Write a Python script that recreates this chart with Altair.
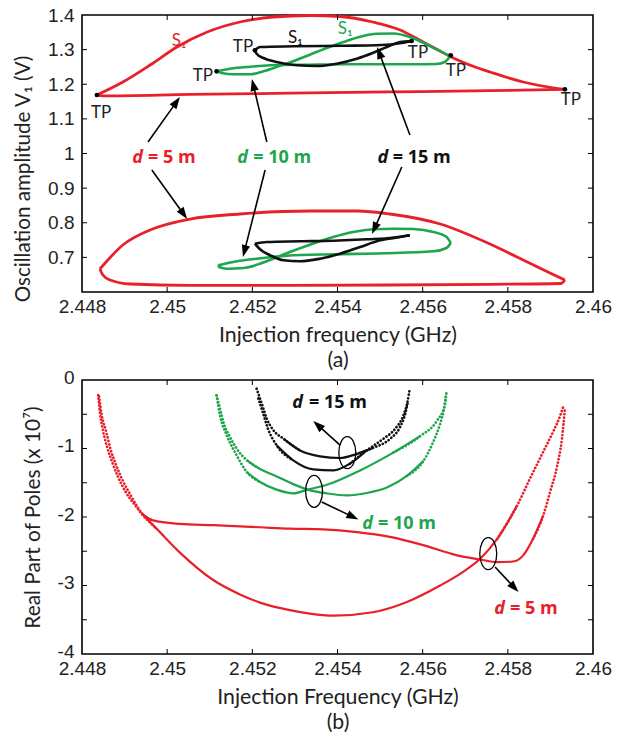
import math
import altair as alt
import pandas as pd

# ============ values ============
RED, GREEN, BLACK, GREY = "#e8202a", "#1fa54d", "#111111", "#222222"

# ---- (a) oscillation amplitude, d = 5 m (red) ----
a5_top_up_x = [2.44835, 2.44896, 2.44960, 2.45023, 2.45094, 2.45171, 2.45249, 2.45335, 2.45406, 2.45483, 2.45547,
               2.45601, 2.45634, 2.45667, 2.45723, 2.45758, 2.45836, 2.45899, 2.45934]
a5_top_up_y = [1.169, 1.2065, 1.2556, 1.3076, 1.3509, 1.3798, 1.3942, 1.3986, 1.3957, 1.3798, 1.3567,
               1.322, 1.3004, 1.2787, 1.2498, 1.2354, 1.2065, 1.1912, 1.1854]
a5_top_lo_x = [2.44835, 2.44849, 2.45054, 2.45288, 2.45523, 2.45758, 2.45934]
a5_top_lo_y = [1.169, 1.1665, 1.1705, 1.1742, 1.1778, 1.1815, 1.1854]
a5_bot_up_x = [2.44842, 2.44896, 2.44960, 2.45054, 2.45171, 2.45335, 2.45446, 2.45523, 2.45641, 2.45758, 2.45836, 2.45899, 2.45934]
a5_bot_up_y = [0.6664, 0.7357, 0.7791, 0.8108, 0.8253, 0.8339, 0.8339, 0.8253, 0.7964, 0.7386, 0.6924, 0.6549, 0.6347]
a5_bot_lo_x = [2.44842, 2.44849, 2.44866, 2.44913, 2.45054, 2.45288, 2.45523, 2.45758, 2.45925, 2.45934]
a5_bot_lo_y = [0.6664, 0.6491, 0.6347, 0.6231, 0.6194, 0.6194, 0.6202, 0.6222, 0.6245, 0.6347]

# ---- (a) d = 10 m (green) ----
a10_top_a_x = [2.45116, 2.45148, 2.45195, 2.45242, 2.45335, 2.45414, 2.45492, 2.45570, 2.45633, 2.45652, 2.45666]
a10_top_a_y = [1.2374, 1.2449, 1.2507, 1.2547, 1.2565, 1.2576, 1.2576, 1.2576, 1.2585, 1.2643, 1.2836]
a10_top_b_x = [2.45116, 2.45128, 2.45155, 2.45195, 2.45226, 2.45257, 2.45296, 2.45335, 2.45375, 2.45414, 2.45453,
               2.45492, 2.45531, 2.45570, 2.45610, 2.45641, 2.45658, 2.45666]
a10_top_b_y = [1.2374, 1.2325, 1.2287, 1.2287, 1.2374, 1.2498, 1.2663, 1.2853, 1.3047, 1.322, 1.3373,
               1.346, 1.3466, 1.3365, 1.3148, 1.2955, 1.2855, 1.2836]
a10_bot_a_x = [2.45120, 2.45155, 2.45210, 2.45281, 2.45390, 2.45508, 2.45625, 2.45656, 2.45666]
a10_bot_a_y = [0.6771, 0.6866, 0.6962, 0.7048, 0.7089, 0.7118, 0.7175, 0.7271, 0.7415]
a10_bot_b_x = [2.45120, 2.45122, 2.45140, 2.45179, 2.45218, 2.45249, 2.45288, 2.45335, 2.45390, 2.45437, 2.45484,
               2.45531, 2.45578, 2.45625, 2.45656, 2.45666]
a10_bot_b_y = [0.6771, 0.6722, 0.6673, 0.6693, 0.6817, 0.6962, 0.7155, 0.7366, 0.7588, 0.7733, 0.7811,
               0.7828, 0.782, 0.7733, 0.7588, 0.7415]

# ---- (a) d = 15 m (black) ----
a15_top_a_x = [2.45206, 2.45218, 2.45296, 2.45414, 2.45492, 2.45555, 2.45574]
a15_top_a_y = [1.298, 1.3076, 1.3096, 1.3113, 1.3125, 1.320, 1.3249]
a15_top_b_x = [2.45206, 2.45210, 2.45226, 2.45257, 2.45304, 2.45351, 2.45398, 2.45445, 2.45484, 2.45516, 2.45547, 2.45574]
a15_top_b_y = [1.298, 1.2882, 1.2758, 1.2643, 1.2547, 1.2527, 1.2594, 1.2738, 1.2911, 1.3076, 1.322, 1.3249]
a15_bot_a_x = [2.45206, 2.45234, 2.45312, 2.45390, 2.45469, 2.45531, 2.45570]
a15_bot_a_y = [0.7395, 0.7444, 0.7464, 0.7482, 0.7522, 0.7568, 0.7638]
a15_bot_b_x = [2.45206, 2.45218, 2.45242, 2.45273, 2.45312, 2.45359, 2.45406, 2.45453, 2.45500, 2.45547, 2.45570]
a15_bot_b_y = [0.7395, 0.7233, 0.706, 0.6915, 0.6887, 0.6962, 0.7106, 0.73, 0.7493, 0.7588, 0.7638]

tp_x = [2.44835, 2.45934, 2.45116, 2.45666, 2.45206, 2.45574]
tp_y = [1.169, 1.1854, 1.2374, 1.2836, 1.298, 1.3249]

lab_a_text = ["S\u2081", "S\u2081", "S\u2081", "TP", "TP", "TP", "TP", "TP", "TP"]
lab_a_x = [2.45028, 2.45301, 2.45418, 2.44845, 2.45084, 2.45178, 2.45589, 2.45678, 2.45948]
lab_a_y = [1.3249, 1.3336, 1.3596, 1.117, 1.2238, 1.3076, 1.2903, 1.2383, 1.1531]
lab_a_col = [RED, BLACK, GREEN, GREY, GREY, GREY, GREY, GREY, GREY]

d_a_x = [2.44943, 2.45190, 2.45519]
d_a_rest_x = [2.44955, 2.45202, 2.45530]
d_a_y = [0.987, 0.987, 0.987]
d_a_rest = ["= 5 m", "= 10 m", "= 15 m"]
d_a_col = [RED, GREEN, BLACK]

arr_a_tx = [2.44955, 2.44964, 2.45234, 2.45230, 2.45570, 2.45551]
arr_a_ty = [1.0332, 0.9523, 1.0332, 0.9523, 1.0534, 0.961]
arr_a_hx = [2.45030, 2.45047, 2.45199, 2.45178, 2.45493, 2.45481]
arr_a_hy = [1.1632, 0.8108, 1.2152, 0.7011, 1.3076, 0.7675]

# ---- (b) real part of poles (x 1e7) ----
b5_d_x = [2.44838, 2.44842, 2.44849, 2.44859, 2.44871, 2.44885, 2.44903, 2.44925, 2.44940, 2.44975, 2.45030, 2.45108,
          2.45171, 2.45218, 2.45288, 2.45335, 2.45390, 2.45483, 2.45563, 2.45641, 2.45695, 2.45735, 2.45775, 2.45822,
          2.45852, 2.45883, 2.45906, 2.45923, 2.45930]
b5_d_y = [-0.22, -0.47, -0.73, -0.98, -1.2, -1.42, -1.64, -1.83, -1.95, -2.17, -2.52, -2.92,
          -3.13, -3.25, -3.36, -3.41, -3.44, -3.39, -3.24, -3.0, -2.8, -2.61, -2.32, -1.83,
          -1.44, -1.05, -0.76, -0.52, -0.39]
b5_f_x = [2.44840, 2.44846, 2.44857, 2.44867, 2.44880, 2.44895, 2.44914, 2.44931, 2.44941, 2.44967, 2.45030, 2.45108,
          2.45218, 2.45288, 2.45366, 2.45446, 2.45523, 2.45601, 2.45681, 2.45735, 2.45775, 2.45812, 2.45836, 2.45859,
          2.45883, 2.45899, 2.45916, 2.45927, 2.45934]
b5_f_y = [-0.24, -0.5, -0.76, -1.01, -1.24, -1.46, -1.68, -1.86, -1.95, -2.05, -2.10, -2.12,
          -2.15, -2.17, -2.18, -2.22, -2.29, -2.41, -2.56, -2.62, -2.66, -2.65, -2.56, -2.32,
          -1.98, -1.64, -1.25, -0.86, -0.42]
b10_1_x = [2.45116, 2.45124, 2.45132, 2.45148, 2.45163, 2.45187, 2.45210, 2.45265, 2.45296, 2.45330, 2.45375, 2.45422,
           2.45469, 2.45516, 2.45563, 2.45602, 2.45625, 2.45641, 2.45650, 2.45655]
b10_1_y = [-0.223, -0.419, -0.613, -0.84, -1.0, -1.17, -1.27, -1.43, -1.52, -1.60, -1.655, -1.685,
           -1.65, -1.57, -1.40, -1.18, -0.90, -0.64, -0.42, -0.204]
b10_2_x = [2.45116, 2.45124, 2.45140, 2.45163, 2.45187, 2.45218, 2.45257, 2.45296, 2.45330, 2.45375, 2.45453, 2.45531,
           2.45594, 2.45633, 2.45652, 2.45656]
b10_2_y = [-0.223, -0.515, -0.807, -1.099, -1.343, -1.489, -1.60, -1.655, -1.60, -1.53, -1.32, -1.06,
           -0.82, -0.60, -0.37, -0.175]
b15_1_x = [2.45210, 2.45223, 2.45234, 2.45249, 2.45273, 2.45312, 2.45359, 2.45406, 2.45445, 2.45483, 2.45523, 2.45547,
           2.45559, 2.45566]
b15_1_y = [-0.127, -0.36, -0.565, -0.73, -0.857, -1.03, -1.115, -1.139, -1.08, -0.993, -0.861, -0.686, -0.496, -0.30]
b15_2_x = [2.45214, 2.45225, 2.45236, 2.45257, 2.45296, 2.45343, 2.45390, 2.45429, 2.45469, 2.45507, 2.45535, 2.45554,
           2.45564, 2.45570]
b15_2_y = [-0.27, -0.48, -0.70, -0.953, -1.172, -1.304, -1.318, -1.222, -1.026, -0.861, -0.715, -0.526, -0.33, -0.117]

d_b_x = [2.45319, 2.45483, 2.45793]
d_b_rest_x = [2.45333, 2.45495, 2.45805]
d_b_y = [-0.343, -2.095, -3.35]
d_b_rest = ["= 15 m", "= 10 m", "= 5 m"]
d_b_col = [BLACK, GREEN, RED]

ell_b_x = [2.45423, 2.45345, 2.45754]
ell_b_y = [-1.061, -1.625, -2.536]

arr_b_tx = [2.45406, 2.45363, 2.45770]
arr_b_ty = [-0.95, -1.781, -2.73]
arr_b_hx = [2.45343, 2.45449, 2.45825]
arr_b_hy = [-0.60, -2.036, -3.095]

x_labels = [2.448, 2.45, 2.452, 2.454, 2.456, 2.458, 2.46]
x_inner = [2.45, 2.452, 2.454, 2.456, 2.458]
ya_labels = [0.7, 0.8, 0.9, 1, 1.1, 1.2, 1.3, 1.4]
ya_inner = [0.7, 0.8, 0.9, 1.0, 1.1, 1.2, 1.3]
yb_labels = [-4, -3, -2, -1, 0]
yb_inner = [-3.5, -3, -2.5, -2, -1.5, -1, -0.5]

# ============ layout / style ============
X0, X1 = 2.448, 2.46
W, HA, HB = 511, 277, 274
YA = (0.6, 1.4)
YB = (-4.0, 0.0)
TFONT = "Lato"
LFONT = "Liberation Sans"
SX = W / (X1 - X0)

xs = alt.Scale(domain=[X0, X1], nice=False, zero=False)
ysa = alt.Scale(domain=list(YA), nice=False, zero=False)
ysb = alt.Scale(domain=list(YB), nice=False, zero=False)


def x_axis(title):
    return alt.Axis(values=x_labels, labelExpr="'' + datum.value", title=title, labelFlush=False,
                    labelOverlap=False, labelPadding=5, titlePadding=8, titleLineHeight=25, titleFontSize=21.3)


ax_a = x_axis(["Injection frequency (GHz)", "(a)"])
ax_b = x_axis(["Injection Frequency (GHz)", "(b)"])
ay_a = alt.Axis(values=ya_labels, labelExpr="'' + datum.value", labelFlush=False, labelOverlap=False,
                title="Oscillation amplitude  V\u2081 (V)", labelPadding=8, titlePadding=14,
                titleFontSize=20.6, titleY=HA / 2 + 25)
ay_b = alt.Axis(values=yb_labels, labelExpr="'' + datum.value", labelFlush=False, labelOverlap=False,
                title="Real Part of Poles (x 10\u2077)", labelPadding=8, titlePadding=14,
                titleFontSize=20.8, labelOffset=-3)


def branches(parts):
    rows = []
    for name, xs_, ys_ in parts:
        for a, b in zip(xs_, ys_):
            rows.append({"x": a, "y": b, "branch": name})
    return pd.DataFrame(rows)


def segs(name, xs_, ys_, i_left, i_right):
    # dotted ends overlap the solid middle by one interval so the joins stay smooth
    rows = []
    n = len(xs_)
    for kind, a, b in (("dot", 0, i_left + 1), ("solid", i_left, i_right), ("dot", i_right - 1, n - 1)):
        for i in range(a, b + 1):
            rows.append({"x": xs_[i], "y": ys_[i], "branch": f"{name}-{kind}-{a}", "kind": kind})
    return rows


def arrows(tx, ty, hx, hy, sy):
    rows = []
    for xt, yt, xh, yh in zip(tx, ty, hx, hy):
        dx = (xh - xt) * SX
        dy = (yh - yt) * sy
        L = math.hypot(dx, dy)
        ux, uy = dx / L, dy / L
        ang = math.degrees(math.atan2(dx, dy)) % 360
        hl = 12.0
        rows.append({"x": xt, "y": yt,
                     "x2": xh - ux * hl * 0.7 / SX, "y2": yh - uy * hl * 0.7 / sy,
                     "hx": xh - ux * hl / 2 / SX, "hy": yh - uy * hl / 2 / sy, "ang": ang})
    return pd.DataFrame(rows)


ARROW = "M0,-1L0.7,1L-0.7,1Z"
ELLIPSE = "M0,-1A0.53,1,0,1,1,0,1A0.53,1,0,1,1,0,-1Z"


def frame_ticks(xt, yt, X, Y, H):
    dfx = pd.DataFrame({"x": xt})
    dfy = pd.DataFrame({"y": yt})
    return [
        alt.Chart(dfx).mark_rule(color="black", strokeWidth=1).encode(x=X, y=alt.value(0), y2=alt.value(5)),
        alt.Chart(dfx).mark_rule(color="black", strokeWidth=1).encode(x=X, y=alt.value(H), y2=alt.value(H - 5)),
        alt.Chart(dfy).mark_rule(color="black", strokeWidth=1).encode(y=Y, x=alt.value(0), x2=alt.value(5)),
        alt.Chart(dfy).mark_rule(color="black", strokeWidth=1).encode(y=Y, x=alt.value(W), x2=alt.value(W - 5)),
    ]


def d_labels(dx, rx, dy, rest, cols, X, Y):
    df_d = pd.DataFrame({"x": dx, "y": dy, "t": ["d"] * len(dx), "c": cols})
    df_r = pd.DataFrame({"x": rx, "y": dy, "t": rest, "c": cols})
    return [
        alt.Chart(df_d).mark_text(font="Open Sans", fontSize=18, fontWeight="bold", fontStyle="italic",
                                  align="right", baseline="middle").encode(
            x=X, y=Y, text="t:N", color=alt.Color("c:N", scale=None)),
        alt.Chart(df_r).mark_text(font="Open Sans", fontSize=18, fontWeight="bold",
                                  align="left", baseline="middle").encode(
            x=X, y=Y, text="t:N", color=alt.Color("c:N", scale=None)),
    ]


def arrow_layers(df, X, Y, xaxis, yscale, yaxis):
    return [
        alt.Chart(df).mark_rule(color="black", strokeWidth=1.6).encode(x=X, y=Y, x2="x2:Q", y2="y2:Q"),
        alt.Chart(df).mark_point(shape=ARROW, size=144, filled=True, color="black", opacity=1).encode(
            x=alt.X("hx:Q", scale=xs, axis=xaxis), y=alt.Y("hy:Q", scale=yscale, axis=yaxis),
            angle=alt.Angle("ang:Q", scale=None)),
    ]


# ---------------- panel (a) ----------------
XA = alt.X("x:Q", scale=xs, axis=ax_a)
YAe = alt.Y("y:Q", scale=ysa, axis=ay_a)
SYA = HA / (YA[1] - YA[0])

red_a = branches([("r1", a5_top_up_x, a5_top_up_y), ("r2", a5_top_lo_x, a5_top_lo_y),
                  ("r3", a5_bot_up_x, a5_bot_up_y), ("r4", a5_bot_lo_x, a5_bot_lo_y)])
green_a = branches([("g1", a10_top_a_x, a10_top_a_y), ("g2", a10_top_b_x, a10_top_b_y),
                    ("g3", a10_bot_a_x, a10_bot_a_y), ("g4", a10_bot_b_x, a10_bot_b_y)])
black_a = branches([("k1", a15_top_a_x, a15_top_a_y), ("k2", a15_top_b_x, a15_top_b_y),
                    ("k3", a15_bot_a_x, a15_bot_a_y), ("k4", a15_bot_b_x, a15_bot_b_y)])

layers_a = []
for df, col, sw in ((red_a, RED, 2.8), (green_a, GREEN, 2.6), (black_a, BLACK, 2.6)):
    layers_a.append(alt.Chart(df).mark_line(interpolate="monotone", color=col, strokeWidth=sw).encode(
        x=XA, y=YAe, detail="branch:N"))
layers_a.append(alt.Chart(pd.DataFrame({"x": tp_x, "y": tp_y})).mark_circle(size=22, color="black", opacity=1)
                .encode(x=XA, y=YAe))
layers_a.append(alt.Chart(pd.DataFrame({"x": lab_a_x, "y": lab_a_y, "t": lab_a_text, "c": lab_a_col}))
                .mark_text(font=TFONT, fontSize=17, baseline="middle", align="center")
                .encode(x=XA, y=YAe, text="t:N", color=alt.Color("c:N", scale=None)))
layers_a += d_labels(d_a_x, d_a_rest_x, d_a_y, d_a_rest, d_a_col, XA, YAe)
layers_a += arrow_layers(arrows(arr_a_tx, arr_a_ty, arr_a_hx, arr_a_hy, SYA), XA, YAe, ax_a, ysa, ay_a)
layers_a += frame_ticks(x_inner, ya_inner, XA, YAe, HA)
panel_a = alt.layer(*layers_a).properties(width=W, height=HA)

# ---------------- panel (b) ----------------
XB = alt.X("x:Q", scale=xs, axis=ax_b)
YBe = alt.Y("y:Q", scale=ysb, axis=ay_b)
SYB = HB / (YB[1] - YB[0])

red_b = pd.DataFrame(segs("d", b5_d_x, b5_d_y, 8, 23) + segs("f", b5_f_x, b5_f_y, 8, 24))
green_b = pd.DataFrame(segs("g1", b10_1_x, b10_1_y, 5, 15) + segs("g2", b10_2_x, b10_2_y, 4, 12))
black_b = pd.DataFrame(segs("k1", b15_1_x, b15_1_y, 4, 9) + segs("k2", b15_2_x, b15_2_y, 3, 8))

layers_b = []
for df, col in ((red_b, RED), (green_b, GREEN), (black_b, BLACK)):
    layers_b.append(alt.Chart(df).transform_filter("datum.kind == 'solid'")
                    .mark_line(interpolate="monotone", color=col, strokeWidth=2.2)
                    .encode(x=XB, y=YBe, detail="branch:N"))
    layers_b.append(alt.Chart(df).transform_filter("datum.kind == 'dot'")
                    .mark_line(interpolate="monotone", color=col, strokeWidth=2.7, strokeDash=[0.1, 3.4],
                               strokeCap="round")
                    .encode(x=XB, y=YBe, detail="branch:N"))
layers_b.append(alt.Chart(pd.DataFrame({"x": ell_b_x, "y": ell_b_y}))
                .mark_point(shape=ELLIPSE, size=1024, filled=False, color="black", strokeWidth=1.3, opacity=1)
                .encode(x=XB, y=YBe))
layers_b += d_labels(d_b_x, d_b_rest_x, d_b_y, d_b_rest, d_b_col, XB, YBe)
layers_b += arrow_layers(arrows(arr_b_tx, arr_b_ty, arr_b_hx, arr_b_hy, SYB), XB, YBe, ax_b, ysb, ay_b)
layers_b += frame_ticks(x_inner, yb_inner, XB, YBe, HB)
panel_b = alt.layer(*layers_b).properties(width=W, height=HB)

chart = (
    alt.vconcat(panel_a, panel_b, spacing=-5)
    .properties(padding={"left": 12, "top": 5, "right": 10, "bottom": 2}, background="white")
    .configure_view(stroke="black", strokeWidth=1.6)
    .configure_axis(grid=False, domain=False, ticks=False,
                    labelFont=LFONT, labelFontSize=19, labelColor="#222222",
                    titleFont=TFONT, titleFontSize=20, titleFontWeight="normal", titleColor="#222222")
)

chart.save("out.html", embed_options={"renderer": "svg", "actions": False})
